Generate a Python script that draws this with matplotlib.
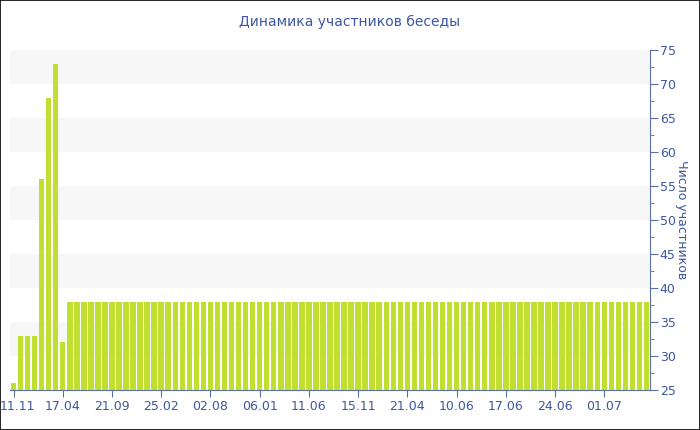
import numpy as np
import matplotlib.pyplot as plt
from matplotlib.patches import Rectangle
from matplotlib.transforms import ScaledTranslation

plt.rcParams['font.family'] = ['DejaVu Sans']

# number of participants per day (91 bars)
counts = [26, 33, 33, 33, 56, 68, 73, 32] + [38] * 83
tick_idx = [0, 7, 14, 21, 28, 35, 42, 49, 56, 63, 70, 77, 84]
tick_labels = ['11.11', '17.04', '21.09', '25.02', '02.08', '06.01', '11.06',
               '15.11', '21.04', '10.06', '17.06', '24.06', '01.07']

text_col = '#3d57a0'
axis_col = '#5a6ea8'
bar_col = '#c0df30'

fig = plt.figure(figsize=(7, 4.3), dpi=100)
ax = fig.add_axes([10 / 700, 1 - 390 / 430, 640 / 700, 340 / 430])

# alternating horizontal bands
for lo in range(30, 75, 10):
    ax.axhspan(lo, lo + 5, color='#f7f7f7', zorder=0, lw=0)

x = np.arange(len(counts))
ax.bar(x, counts, width=0.78, color=bar_col, zorder=2)

ax.set_xlim(-0.5, len(counts) - 0.5)
ax.set_ylim(25, 75)

ax.yaxis.tick_right()
ax.yaxis.set_label_position('right')
ax.set_yticks(range(25, 76, 5))
ax.set_yticks(np.arange(27.5, 75, 5), minor=True)
ax.tick_params(axis='y', which='major', length=6, color=axis_col, labelcolor=text_col,
               labelsize=9, pad=1)
ax.tick_params(axis='y', which='minor', length=3, color=axis_col)
ax.set_ylabel('Число участников', rotation=-90, color=text_col, fontsize=9, labelpad=9)

ax.set_xticks(tick_idx)
ax.set_xticklabels(tick_labels)
ax.tick_params(axis='x', length=5, color=axis_col, labelcolor=text_col, labelsize=9, pad=2)
# keep the first date inside the picture
first = ax.get_xticklabels()[0]
first.set_transform(first.get_transform() + ScaledTranslation(4 / 100, 0, fig.dpi_scale_trans))

for side in ['top', 'left']:
    ax.spines[side].set_visible(False)
ax.spines['bottom'].set_color(axis_col)
ax.spines['right'].set_color(axis_col)

fig.text(350 / 700, 1 - 22 / 430, 'Динамика участников беседы', ha='center', va='center',
         color=text_col, fontsize=10)

fig.patches.append(Rectangle((0, 0), 1, 1, transform=fig.transFigure, fill=False,
                             ec='black', lw=1.2))

fig.savefig('out.png', dpi=100)
